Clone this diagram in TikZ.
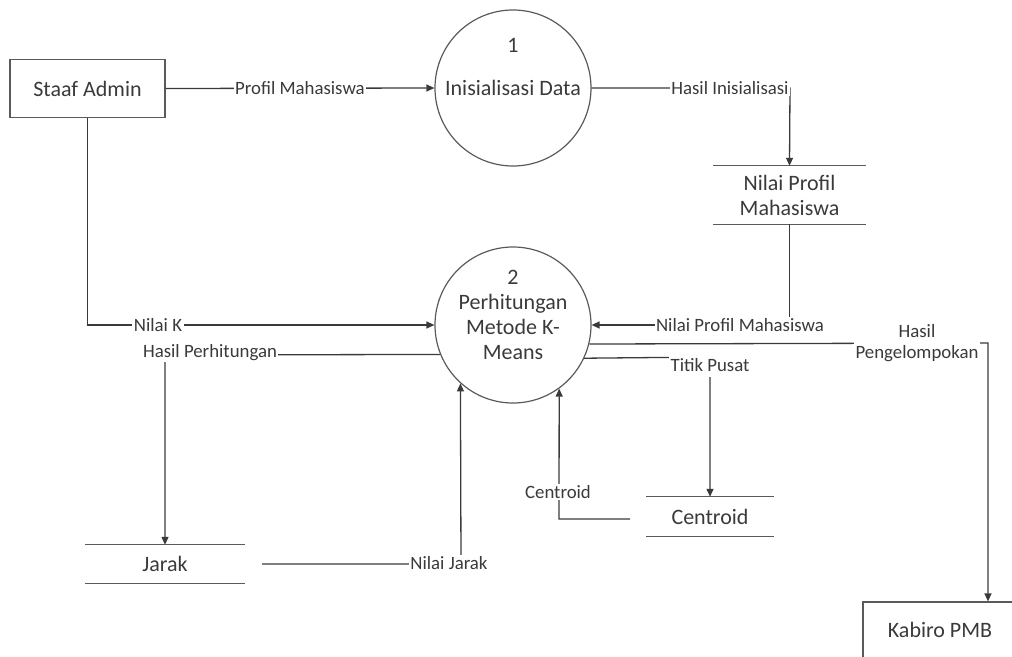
\documentclass[tikz,border=0pt]{standalone}
\usepackage{fontspec}
\setmainfont{Carlito}
\usetikzlibrary{arrows.meta}
\newcommand\mainfs{\fontsize{22}{25}\selectfont}
\newcommand\lblfs{\fontsize{18.8}{20.5}\selectfont}
\definecolor{linec}{HTML}{3A3A3A}
\definecolor{boxc}{HTML}{5A5A5A}
\definecolor{txtc}{HTML}{3A3A3A}
\begin{document}
\begin{tikzpicture}[x=1pt,y=-1pt,
  line/.style={draw=linec, line width=1.3pt},
  flow/.style={line, -{Triangle[length=8pt,width=7pt]}},
  ext/.style={draw=boxc, line width=1.2pt, minimum width=155pt, minimum height=58pt,
    inner sep=0pt, font=\mainfs, text=txtc},
  proc/.style={circle, draw=boxc, line width=1.2pt, minimum size=156pt, inner sep=0pt,
    font=\mainfs, text=txtc, align=center},
  store/.style={inner sep=0pt, font=\mainfs, text=txtc, align=center},
  storeline/.style={draw=boxc, line width=1.2pt},
  lbl/.style={fill=white, inner xsep=1.5pt, inner ysep=1pt, font=\lblfs, text=txtc, align=center},
]
\useasboundingbox (0,0) rectangle (1012,656);
\clip (0,0) rectangle (1012,656);

% external entities
\node[ext] (admin) at (87.5,88.5) {Staaf Admin};
\node[ext, minimum width=154pt, minimum height=56pt] (kabiro) at (940,630) {Kabiro PMB};

% processes
\node[proc] (p1) at (513,88) {Inisialisasi Data};
\node[font=\mainfs, text=txtc] (p1num) at (513,45) {1};
\node[proc] (p2) at (513,325) {};
\node[font=\mainfs, text=txtc, align=center] (p2txt) at (513,315)
  {2\\Perhitungan\\Metode K-\\Means};

% data stores
\node[store, minimum width=153pt, minimum height=58pt] (np) at (789.5,195)
  {Nilai Profil\\Mahasiswa};
\node[store, minimum width=160pt, minimum height=38pt] (jarak) at (165,564) {Jarak};
\node[store, minimum width=127pt, minimum height=39pt] (cent) at (710,516.5) {Centroid};
\foreach \s in {np,jarak,cent}
  \draw[storeline] (\s.north west) -- (\s.north east) (\s.south west) -- (\s.south east);

% helper points
\coordinate (c1) at (790,88);
\coordinate (c2) at (789.5,325);
\coordinate (c3) at (87.5,325);
\coordinate (c4) at (165,355);
\coordinate (jout) at ([xshift=17pt]jarak.east);
\coordinate (c5) at (461,564);
\coordinate (c6) at (710,357);
\coordinate (cout) at (630,519);
\coordinate (c7) at (559,519);
\coordinate (c8) at (988,343);

% data flows
\draw[flow] (admin.east) -- (p1.west);
\draw[flow] (p1.east) -- (c1) -- (np.north);
\draw[flow] (np.south) -- (c2) -- (p2.east);
\draw[flow] (admin.south) -- (c3) -- (p2.west);
\draw[flow] (p2.202.6) -- (c4) -- (jarak.north);
\draw[flow] (jout) -- (c5) -- (p2.228.1);
\draw[flow] (p2.335.7) -- (c6) -- (cent.north);
\draw[flow] (cout) -- (c7) -- (p2.306.1);
\draw[flow] (p2.346.7) -- (c8) -- (c8 |- kabiro.north);

% flow labels
\node[lbl] (l1) at (300,88) {Profil Mahasiswa};
\node[lbl] (l2) at (730,88) {Hasil Inisialisasi};
\node[lbl] (l3) at (740,325) {Nilai Profil Mahasiswa};
\node[lbl] (l4) at (158,325) {Nilai K};
\node[lbl] (l5) at (210,353) {Hasil Perhitungan};
\node[lbl] (l6) at (449,563) {Nilai Jarak};
\node[lbl, inner ysep=5pt] (l7) at (710,365) {Titik Pusat};
\node[lbl] (l8) at (558,492) {Centroid};
\node[lbl] (l9) at (917,343) {Hasil\\Pengelompokan};
\end{tikzpicture}
\end{document}
